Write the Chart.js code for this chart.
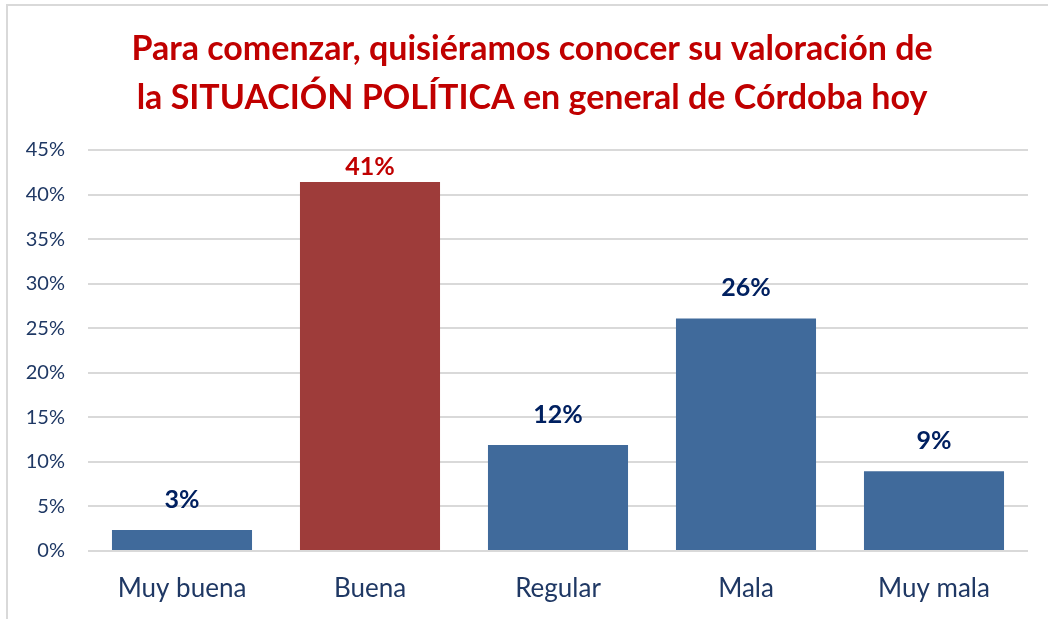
<!DOCTYPE html>
<html lang="es">
<head>
<meta charset="UTF-8">
<title>Situación política de Córdoba</title>
<script src="https://cdn.jsdelivr.net/npm/chart.js"></script>
<style>
    html, body { margin: 0; padding: 0; background: #fff; overflow: hidden; }
    .frame {
        position: absolute;
        left: 6px; top: 4px;
        width: 1100px; height: 700px;
        border: 2px solid #D9D9D9;
    }
    #chart { position: absolute; left: 0; top: 0; }
</style>
</head>
<body>
<div class="frame"></div>
<canvas id="chart" width="1048" height="619"></canvas>
<script>
    const categories = ['Muy buena', 'Buena', 'Regular', 'Mala', 'Muy mala'];
    const values = [2.35, 41.4, 11.9, 26.1, 8.95];
    const valueLabels = ['3%', '41%', '12%', '26%', '9%'];
    const barColors = ['#406A9B', '#9E3C3A', '#406A9B', '#406A9B', '#406A9B'];
    const labelColors = ['#002060', '#C00000', '#002060', '#002060', '#002060'];
    const titleLines = [
        'Para comenzar, quisiéramos conocer su valoración de',
        'la SITUACIÓN POLÍTICA en general de Córdoba hoy'
    ];

    const fontFamily = 'Lato, "Open Sans", sans-serif';

    // título centrado en la página (no sobre el área del gráfico)
    const pageTitle = {
        id: 'pageTitle',
        afterDraw(chart) {
            const ctx = chart.ctx;
            ctx.save();
            ctx.font = 'bold 34px ' + fontFamily;
            ctx.fillStyle = '#C00000';
            ctx.textAlign = 'center';
            ctx.textBaseline = 'middle';
            titleLines.forEach((line, i) => ctx.fillText(line, 532, 49 + i * 49));
            ctx.restore();
        }
    };

    // etiquetas de valor sobre cada barra
    const barLabels = {
        id: 'barLabels',
        afterDatasetsDraw(chart) {
            const ctx = chart.ctx;
            const meta = chart.getDatasetMeta(0);
            ctx.save();
            ctx.font = 'bold 25px ' + fontFamily;
            ctx.textAlign = 'center';
            ctx.textBaseline = 'middle';
            meta.data.forEach((bar, i) => {
                let y = bar.y - 30;
                if (y < chart.chartArea.top + 17) y = chart.chartArea.top + 17;
                ctx.fillStyle = labelColors[i];
                ctx.fillText(valueLabels[i], bar.x, y);
            });
            ctx.restore();
        }
    };

    new Chart(document.getElementById('chart'), {
        type: 'bar',
        data: {
            labels: categories,
            datasets: [{
                data: values,
                backgroundColor: barColors,
                categoryPercentage: 1,
                barPercentage: 0.745
            }]
        },
        options: {
            responsive: false,
            animation: false,
            layout: { padding: { left: 0, right: 20, top: 150, bottom: 0 } },
            plugins: {
                legend: { display: false },
                tooltip: { enabled: false },
                title: { display: false }
            },
            scales: {
                x: {
                    grid: { display: false, drawTicks: false },
                    border: { display: false },
                    ticks: {
                        color: '#1F3864',
                        font: { family: fontFamily, size: 26 },
                        padding: 22
                    },
                    afterFit(scale) { scale.height = 68; }
                },
                y: {
                    min: 0,
                    max: 45,
                    grid: { color: '#D9D9D9', lineWidth: 2, drawTicks: false },
                    border: { display: false },
                    ticks: {
                        stepSize: 5,
                        color: '#1F3864',
                        font: { family: fontFamily, size: 20 },
                        padding: 23,
                        callback: v => v + '%'
                    },
                    afterFit(scale) { scale.width = 88; }
                }
            }
        },
        plugins: [barLabels, pageTitle]
    });
</script>
</body>
</html>
